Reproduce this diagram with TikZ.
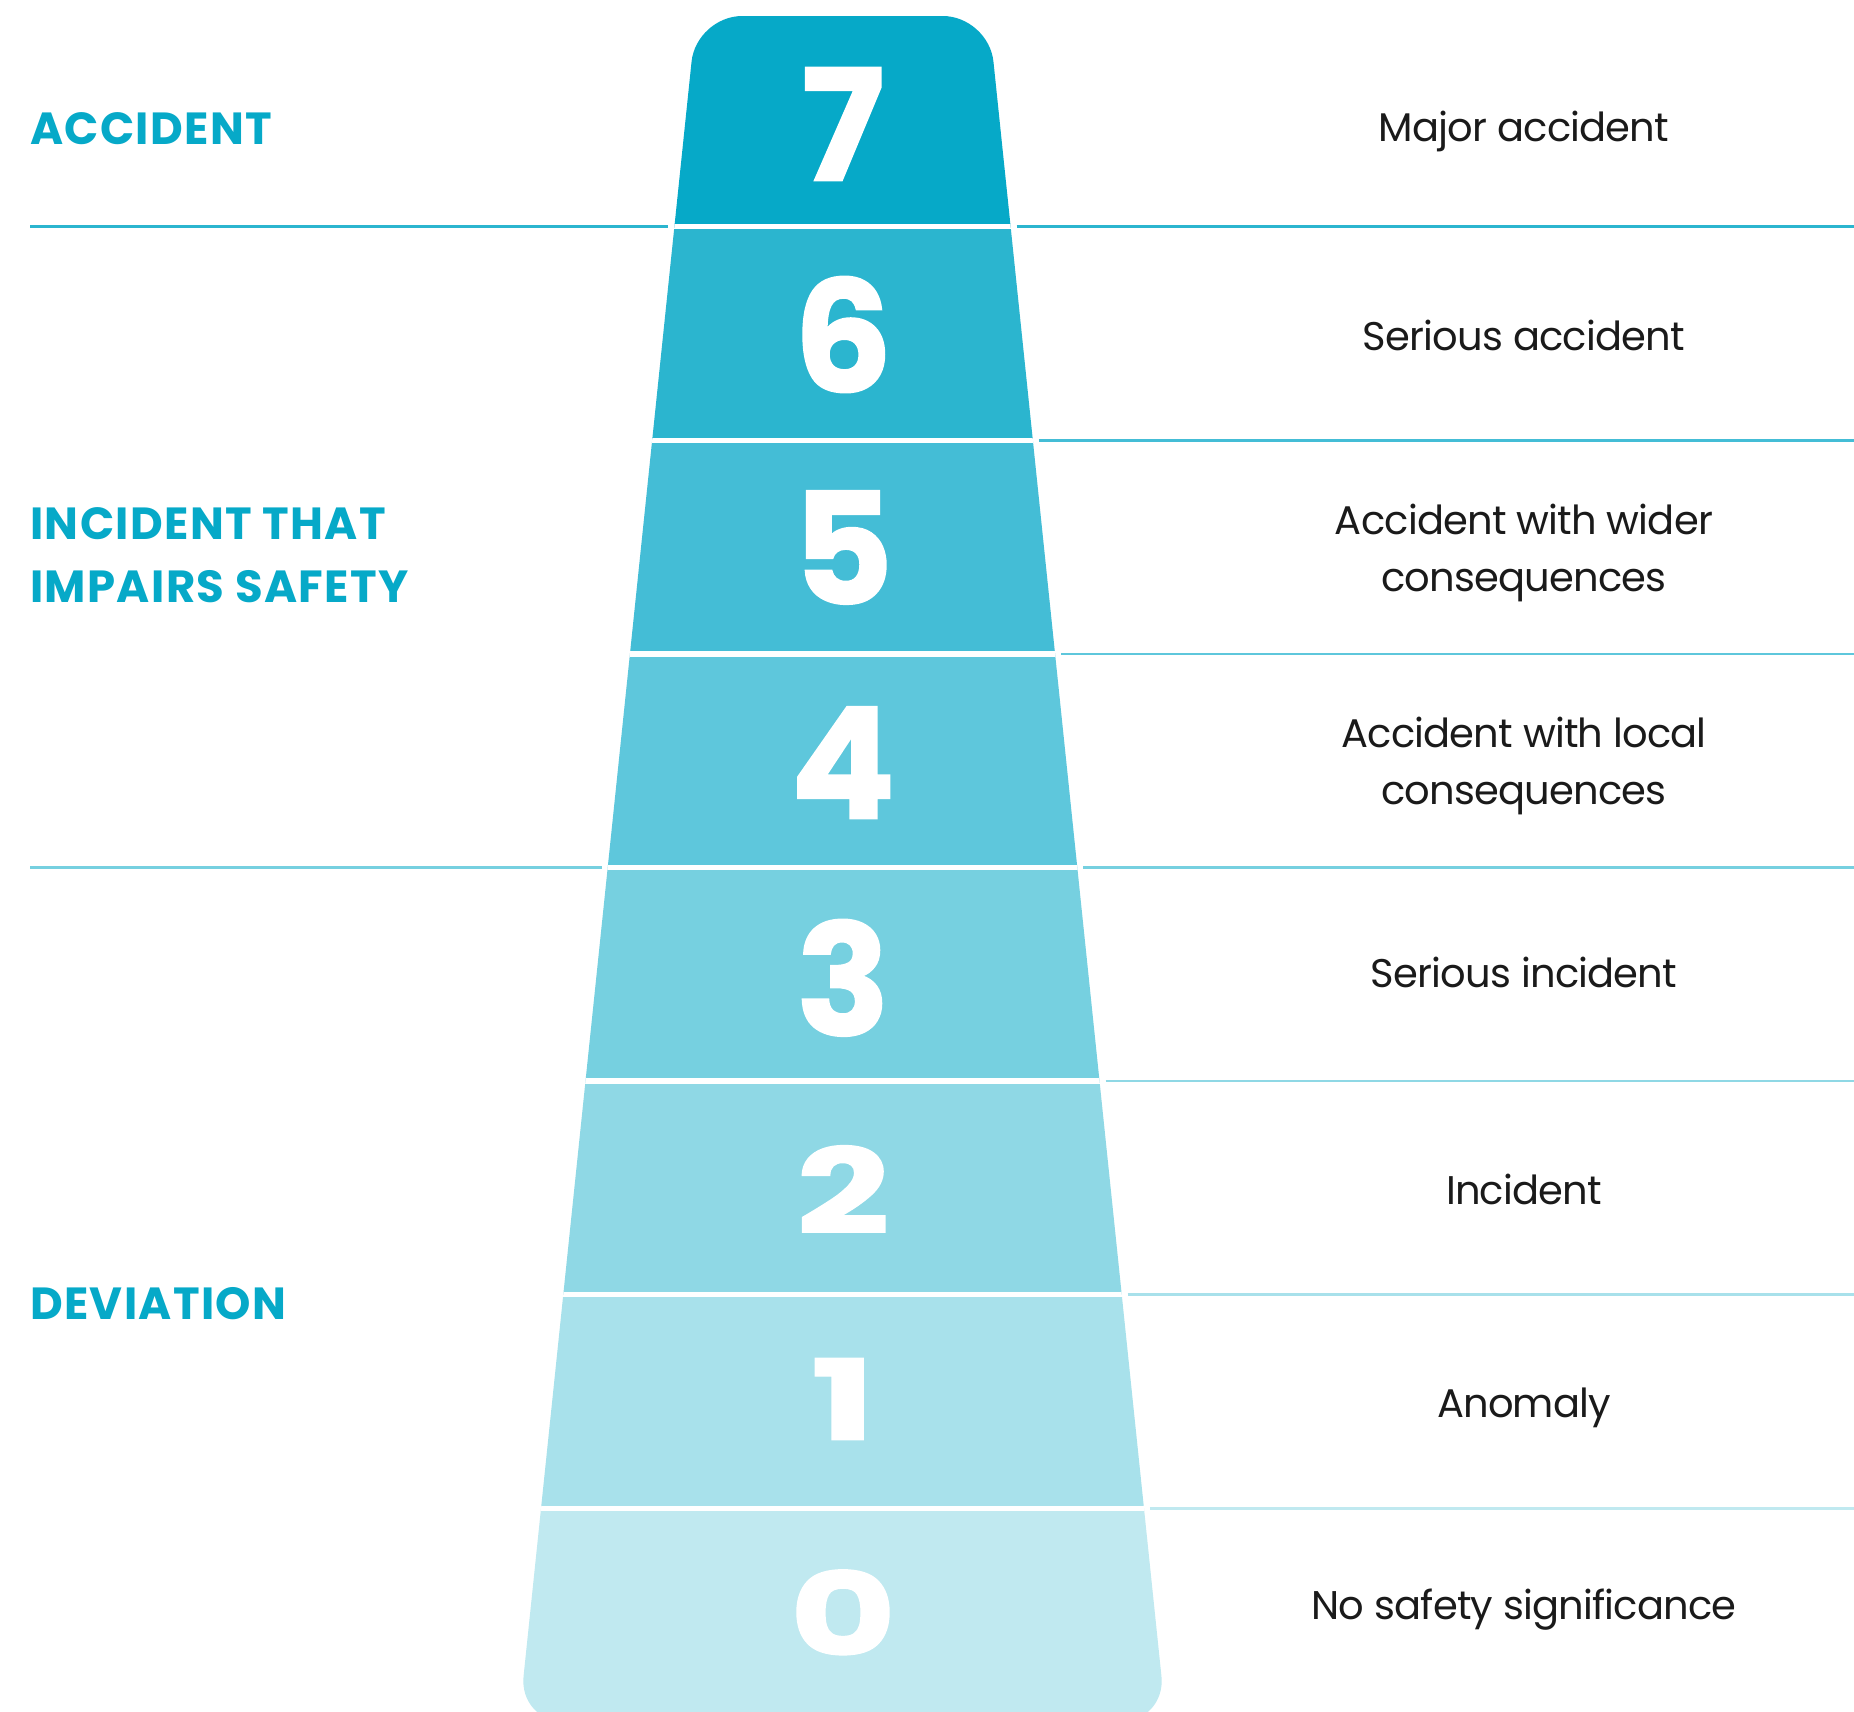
\documentclass[tikz,border=0pt]{standalone}
\usepackage{fontspec}
\setmainfont{Poppins}
\newfontfamily\digitfont{Poppins}[FakeBold=1.2]
\newfontfamily\hdrfont{Poppins}[LetterSpace=3]
\newfontfamily\descfont{Poppins}[LetterSpace=-2]
\definecolor{b7}{HTML}{06A9C8}
\definecolor{b6}{HTML}{2BB5CF}
\definecolor{b5}{HTML}{44BDD6}
\definecolor{b4}{HTML}{5EC7DC}
\definecolor{b3}{HTML}{76D0E0}
\definecolor{b2}{HTML}{8FD8E5}
\definecolor{b1}{HTML}{A8E1EB}
\definecolor{b0}{HTML}{C0E9F0}
\definecolor{hdrc}{HTML}{06A9C8}
\definecolor{txtc}{HTML}{1A1A1A}
\begin{document}
\begin{tikzpicture}[x=1pt,y=-1pt,
  hdr/.style={text=hdrc, inner sep=0pt, align=left, font=\hdrfont\fontsize{45}{63.4}\selectfont\bfseries},
  desc/.style={text=txtc, inner sep=0pt, align=center, font=\descfont\fontsize{40}{57}\selectfont},
  digit/.style={text=white, inner sep=0pt, font=\digitfont\bfseries\fontsize{155}{160}\selectfont},
  sepline/.style={line width=2.7pt}]
\useasboundingbox (0,0) rectangle (1854,1711);
\fill[white] (0,0) rectangle (1854,1711);
% ladder shape
\begin{scope}
\clip[rounded corners=46pt] (842.5,16) -- (988.7,16) -- (1166.2,1722) -- (518.8,1722) -- (696.3,16) -- cycle;
\foreach \yt/\yb/\c in {0/226.7/b7, 226.7/440.3/b6, 440.3/653.9/b5, 653.9/867.5/b4, 867.5/1081.1/b3, 1081.1/1294.7/b2, 1294.7/1508.3/b1, 1508.3/1800/b0}
  \fill[\c] (400,\yt) rectangle (1300,\yb);
\foreach \y in {226.7,440.3,653.9,867.5,1081.1,1294.7,1508.3}
  \draw[white, line width=5.3pt] (400,\y) -- (1300,\y);
\end{scope}
% separator lines
\foreach \y/\c in {226.7/b6, 440.3/b5, 653.9/b4, 867.5/b3, 1081.1/b2, 1294.7/b1, 1508.3/b0}{
  \pgfmathsetmacro\h{150.7+0.1041*(\y-60)}
  \draw[sepline, \c] (842.5+\h+6,\y) -- (1854,\y);
}
\foreach \y/\c in {226.7/b6, 867.5/b3}{
  \pgfmathsetmacro\h{150.7+0.1041*(\y-60)}
  \draw[sepline, \c] (30,\y) -- (842.5-\h-6,\y);
}
% digits
\node[digit] (d7) at (843,124) {7};
\node[digit] (d6) at (843,334.5) {6};
\node[digit] (d5) at (843,547.5) {5};
\node[digit] (d4) at (843,762.6) {4};
\node[digit] (d3) at (843,977.8) {3};
\node[digit] (d2) at (843,1189.5) {\scalebox{1.05}[0.76]{2}};
\node[digit] (d1) at (843,1399) {\scalebox{1.1}[0.72]{1}};
\node[digit] (d0) at (843,1612.5) {\scalebox{1.05}[0.74]{0}};
% headers
\node[hdr, anchor=base west] (hacc) at (30,144) {ACCIDENT};
\node[hdr, anchor=base west] (hinc) at (30,602.7) {INCIDENT THAT\\IMPAIRS SAFETY};
\node[hdr, anchor=base west] (hdev) at (30,1319) {DEVIATION};
% descriptions
\node[desc, anchor=base] (t7) at (1524,141) {Major accident};
\node[desc, anchor=base] (t6) at (1524,350.3) {Serious accident};
\node[desc, anchor=base] (t5) at (1524,591) {Accident with wider\\consequences};
\node[desc, anchor=base] (t4) at (1524,804.6) {Accident with local\\consequences};
\node[desc, anchor=base] (t3) at (1524,987.6) {Serious incident};
\node[desc, anchor=base] (t2) at (1524,1204) {Incident};
\node[desc, anchor=base] (t1) at (1524,1417) {Anomaly};
\node[desc, anchor=base] (t0) at (1524,1619) {No safety significance};
\end{tikzpicture}
\end{document}
